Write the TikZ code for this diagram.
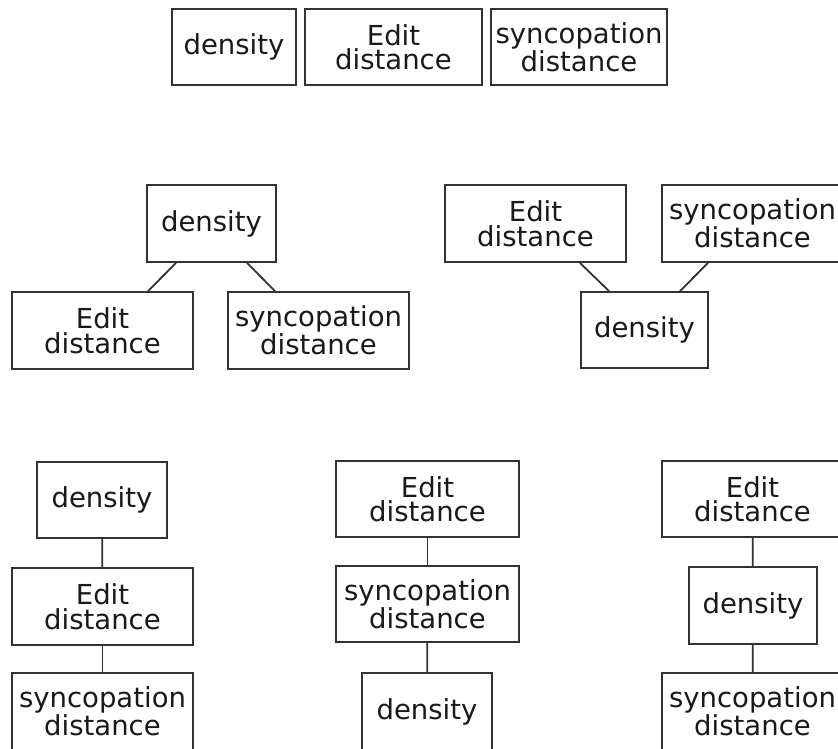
\documentclass[tikz,border=0pt]{standalone}
\usepackage{fontspec}
\setmainfont{DejaVu Sans}
\usetikzlibrary{calc}
\definecolor{edge}{HTML}{333333}
\begin{document}
\begin{tikzpicture}[x=1pt,y=-1pt,
  box/.style={draw=edge,line width=1.8pt,rectangle,inner sep=0pt,align=center,
    minimum height=77pt,font=\fontsize{27.5}{24.5}\selectfont,text=black!90},
  wide/.style={box,minimum width=181pt},
  narrow/.style={box,minimum width=129pt},
  link/.style={draw=edge,line width=1.8pt}]
\useasboundingbox (0,0) rectangle (838,749);
% top row
\node[box,minimum width=124pt,minimum height=76pt] (t1) at (234,47) {density};
\node[box,minimum width=177pt,minimum height=76pt] (t2) at (393.5,47) {Edit\\distance};
\node[box,minimum width=176pt,minimum height=76pt] (t3) at (579,47) {syncopation\\distance};
% middle left
\node[narrow] (ml1) at (211.5,223.5) {density};
\node[wide] (ml2) at (102.5,330.5) {Edit\\distance};
\node[wide] (ml3) at (318.5,330.5) {syncopation\\distance};
\draw[link] ($(ml1.south)+(-35.5,0)$) -- ($(ml2.north)+(45.5,0)$);
\draw[link] ($(ml1.south)+(35.5,0)$) -- ($(ml3.north)+(-43.5,0)$);
% middle right
\node[wide] (mr1) at (535.5,223.5) {Edit\\distance};
\node[wide] (mr2) at (752.5,223.5) {syncopation\\distance};
\node[box,minimum width=127pt,minimum height=76pt] (mr3) at (644.5,330) {density};
\draw[link] ($(mr1.south)+(44.5,0)$) -- ($(mr3.north)+(-35.5,0)$);
\draw[link] ($(mr2.south)+(-44.5,0)$) -- ($(mr3.north)+(35.5,0)$);
% bottom left
\node[box,minimum width=130pt,minimum height=76pt] (bl1) at (102,500) {density};
\node[wide] (bl2) at (102.5,606.5) {Edit\\distance};
\node[wide] (bl3) at (102.5,711.5) {syncopation\\distance};
\draw[link] (bl1) -- (bl2);
\draw[link] (bl2) -- (bl3);
% bottom middle
\node[box,minimum width=183pt,minimum height=76pt] (bm1) at (427.5,499) {Edit\\distance};
\node[box,minimum width=183pt,minimum height=76pt] (bm2) at (427.5,604) {syncopation\\distance};
\node[box,minimum width=130pt] (bm3) at (427,711.5) {density};
\draw[link] (bm1) -- (bm2);
\draw[link] (bm2) -- (bm3);
% bottom right
\node[box,minimum width=181pt,minimum height=76pt] (br1) at (752.5,499) {Edit\\distance};
\node[box,minimum width=128pt] (br2) at (753,605.5) {density};
\node[wide] (br3) at (752.5,711.5) {syncopation\\distance};
\draw[link] (br1) -- (br2);
\draw[link] (br2) -- (br3);
\end{tikzpicture}
\end{document}
